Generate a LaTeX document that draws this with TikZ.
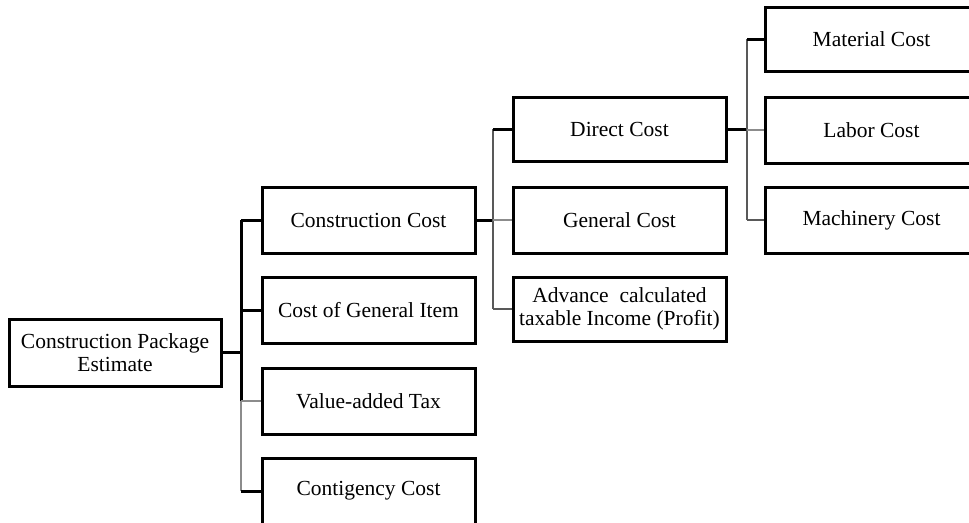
\documentclass[tikz,border=0pt]{standalone}
\usepackage{fontspec}
\setmainfont{Liberation Serif}
\usetikzlibrary{calc}
\begin{document}
\begin{tikzpicture}[x=1pt,y=-1pt,
  box/.style={draw=black,line width=3pt,rectangle,minimum width=213pt,minimum height=66pt,inner sep=0pt,align=center,font=\fontsize{21.5}{23}\selectfont},
  blk/.style={draw=black,line width=3pt},
  gry/.style={draw=black!45,line width=2.6pt},
  dgry/.style={draw=black!65,line width=2.8pt}]
\useasboundingbox (0,0) rectangle (969,522);
\clip (0,0) rectangle (969,522);
\fill[white] (0,0) rectangle (969,522);
% nodes
\node[box,minimum width=212pt,minimum height=67pt] (root) at (115,352.5) {Construction Package\\Estimate};
\node[box] (cc) at (368.5,220) {Construction Cost};
\node[box] (cgi) at (368.5,310) {Cost of General Item};
\node[box] (vat) at (368.5,401) {Value-added Tax};
\node[box] (cont) at (368.5,491) {Contigency Cost};
\node[box,minimum height=64pt] (dc) at (619.5,129) {Direct Cost};
\node[box] (gc) at (619.5,220) {General Cost};
\node[box,minimum height=64pt] (adv) at (619.5,309) {Advance\ \ calculated\\taxable Income (Profit)};
\node[box,minimum height=64pt] (mat) at (871.5,39) {Material Cost};
\node[box] (lab) at (871.5,130) {Labor Cost};
\node[box] (mach) at (871.5,220) {Machinery Cost};
% junction coordinates
\coordinate (j1) at (241,352.5);
\coordinate (j2) at (493,220);
\coordinate (j3) at (747,129);
% level 1 -> 2
\draw[blk] (root.east) -- (j1);
\draw[blk] (j1 |- cc) -- (j1 |- vat);
\draw[gry] (j1 |- vat) -- (j1 |- cont);
\draw[blk] (j1 |- cc) -- (cc.west);
\draw[blk] (j1 |- cgi) -- (cgi.west);
\draw[gry] (j1 |- vat) -- (vat.west);
\draw[blk] (j1 |- cont) -- (cont.west);
% level 2 -> 3
\draw[blk] (cc.east) -- (j2);
\draw[dgry] (j2 |- dc) -- (j2 |- adv);
\draw[blk] (j2 |- dc) -- (dc.west);
\draw[gry] (j2) -- (gc.west);
\draw[dgry] (j2 |- adv) -- (adv.west);
% level 3 -> 4
\draw[blk] (dc.east) -- (j3);
\draw[dgry] (j3 |- mat) -- (j3 |- mach);
\draw[blk] (j3 |- mat) -- (mat.west);
\draw[gry,line width=1.6pt] (j3 |- lab) -- (lab.west);
\draw[dgry] (j3 |- mach) -- (mach.west);
\end{tikzpicture}
\end{document}
